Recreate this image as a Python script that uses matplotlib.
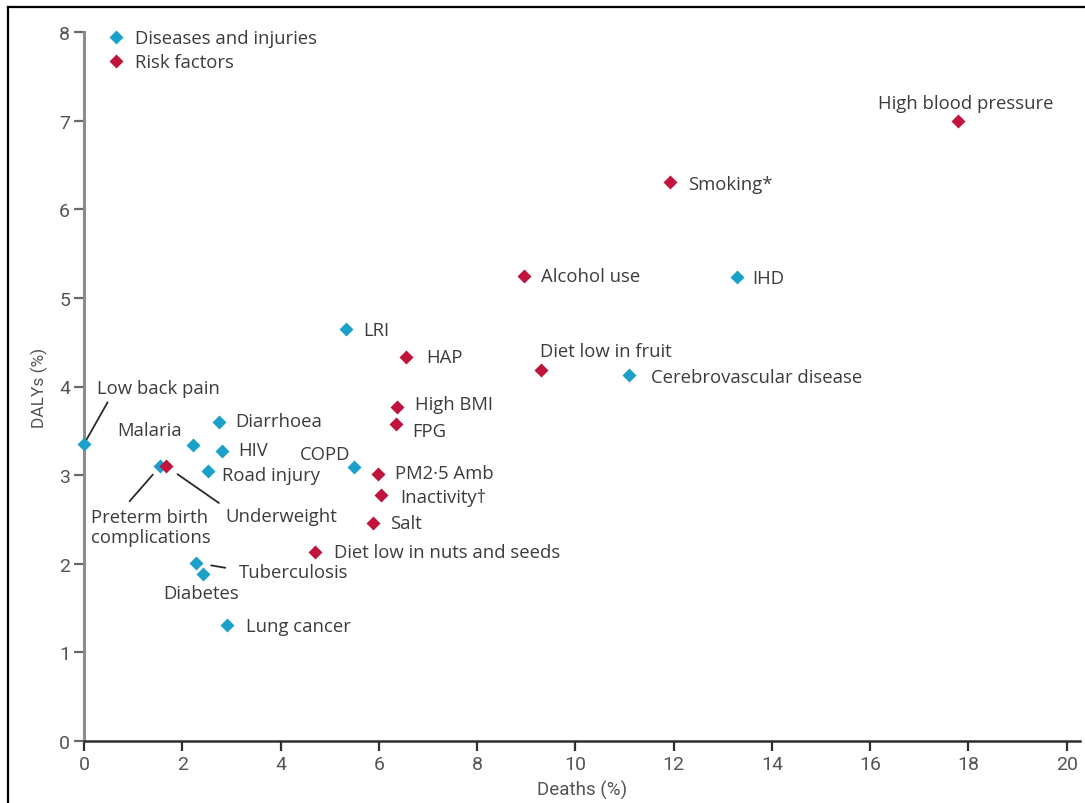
import matplotlib
matplotlib.use("Agg")
import matplotlib.pyplot as plt
from matplotlib.lines import Line2D

# ---------------- data ----------------
disease_names = ["Low back pain", "Malaria", "Diarrhoea", "HIV", "Road injury",
                 "Preterm birth\ncomplications", "COPD", "LRI", "Tuberculosis",
                 "Diabetes", "Lung cancer", "IHD", "Cerebrovascular disease"]
disease_deaths = [0.0, 2.22, 2.75, 2.81, 2.52, 1.55, 5.49, 5.34, 2.28, 2.42, 2.91, 13.28, 11.09]
disease_dalys = [3.35, 3.34, 3.60, 3.27, 3.05, 3.10, 3.09, 4.65, 2.01, 1.88, 1.31, 5.24, 4.13]

risk_names = ["High blood pressure", "Smoking*", "Alcohol use", "Diet low in fruit",
              "HAP", "High BMI", "FPG", "PM2·5 Amb", "Inactivity†", "Salt",
              "Diet low in nuts and seeds", "Underweight"]
risk_deaths = [17.78, 11.92, 8.95, 9.30, 6.55, 6.38, 6.34, 5.99, 6.04, 5.88, 4.70, 1.67]
risk_dalys = [7.00, 6.31, 5.25, 4.19, 4.33, 3.77, 3.58, 3.01, 2.78, 2.46, 2.13, 3.10]

x_ticks = [0, 2, 4, 6, 8, 10, 12, 14, 16, 18, 20]
y_ticks = [0, 1, 2, 3, 4, 5, 6, 7, 8]

# ---------------- style ----------------
BLUE = "#1ba1c9"
RED = "#c0143c"
TXT = "#3c3c3c"
LBL_FONT = ["Open Sans", "DejaVu Sans"]
TICK_FONT = ["Liberation Sans Narrow", "DejaVu Sans Condensed", "Roboto", "DejaVu Sans"]
FS = 13.3

# label placement: (dx, dy in pixels, ha, leader-line spec or None)
disease_lbl = {
    "Low back pain": (13, 56, "left", dict(relpos=(0.11, 0.0), shrinkA=2, shrinkB=4)),
    "Malaria": (-11, 15, "right", None),
    "Diarrhoea": (16, 1, "left", None),
    "HIV": (16, 1, "left", None),
    "Road injury": (14, -4, "left", None),
    "Preterm birth\ncomplications": (-69, -61, "left", dict(relpos=(0.27, 1.0), shrinkA=4, shrinkB=8)),
    "COPD": (-4, 13, "right", None),
    "LRI": (17, -1, "left", None),
    "Tuberculosis": (43, -9, "left", dict(relpos=(0.0, 0.6), shrinkA=8, shrinkB=11)),
    "Diabetes": (-2, -19, "center", None),
    "Lung cancer": (19, -1, "left", None),
    "IHD": (16, -1, "left", None),
    "Cerebrovascular disease": (22, -2, "left", None),
}
risk_lbl = {
    "High blood pressure": (8, 18, "center", None),
    "Smoking*": (18, -2, "left", None),
    "Alcohol use": (17, 0, "left", None),
    "Diet low in fruit": (-1, 19, "left", None),
    "HAP": (20, 0, "left", None),
    "High BMI": (18, 3, "left", None),
    "FPG": (17, -7, "left", None),
    "PM2·5 Amb": (17, 1, "left", None),
    "Inactivity†": (19, -2, "left", None),
    "Salt": (17, 0, "left", None),
    "Diet low in nuts and seeds": (19, 0, "left", None),
    "Underweight": (59, -50, "left", dict(relpos=(0.0, 1.0), shrinkA=3, shrinkB=10)),
}

W, H = 1085, 804
fig = plt.figure(figsize=(W / 100, H / 100), dpi=100)
ax = fig.add_axes([84 / W, 1 - 742 / H, (1080 - 84) / W, (742 - 33) / H])

ax.set_xlim(0, 20.27)
ax.set_ylim(0, 8)

ms = 7.5
l1, = ax.plot(disease_deaths, disease_dalys, linestyle="none", marker="D", ms=ms,
              color=BLUE, mec="none", clip_on=False, zorder=3, label="Diseases and injuries")
l2, = ax.plot(risk_deaths, risk_dalys, linestyle="none", marker="D", ms=ms,
              color=RED, mec="none", clip_on=False, zorder=4, label="Risk factors")


def label(names, xs, ys, spec):
    for n, x, y in zip(names, xs, ys):
        dx, dy, ha, line = spec[n]
        kw = {}
        if line is not None:
            kw["arrowprops"] = dict(arrowstyle="-", color="#2a2a2a", lw=1.3,
                                    relpos=line["relpos"], shrinkA=line["shrinkA"],
                                    shrinkB=line["shrinkB"])
        ax.annotate(n, xy=(x, y), xytext=(dx, dy), textcoords="offset pixels",
                    ha=ha, va="center", fontsize=FS, color=TXT, family=LBL_FONT,
                    linespacing=1.15, annotation_clip=False, **kw)


label(disease_names, disease_deaths, disease_dalys, disease_lbl)
label(risk_names, risk_deaths, risk_dalys, risk_lbl)

# spines / ticks
for s in ("top", "right"):
    ax.spines[s].set_visible(False)
ax.spines["left"].set_color("#8c8c8c")
ax.spines["left"].set_linewidth(2.2)
ax.spines["bottom"].set_color("#2e2e2e")
ax.spines["bottom"].set_linewidth(1.8)
ax.set_xticks(x_ticks)
ax.set_yticks(y_ticks)
ax.tick_params(axis="y", direction="out", length=7, width=1.6, color="#6a6a6a",
               labelsize=14, labelcolor="#555555", pad=3)
ax.tick_params(axis="x", direction="out", length=7, width=1.6, color="#2e2e2e",
               labelsize=14, labelcolor="#555555", pad=3)
for t in ax.get_xticklabels() + ax.get_yticklabels():
    t.set_family(TICK_FONT)

ax.set_xlabel("Deaths (%)", fontsize=13.5, color="#555555", family=TICK_FONT, labelpad=5)
ax.set_ylabel("DALYs (%)", fontsize=12.5, color="#555555", family=TICK_FONT, labelpad=8)

leg = ax.legend(handles=[l1, l2], loc="upper left", bbox_to_anchor=(99 / W, 1 - 23 / H),
                bbox_transform=fig.transFigure, frameon=False, handlelength=1.0,
                handletextpad=0.55, borderaxespad=0, labelspacing=0.33,
                prop=dict(family=LBL_FONT, size=FS))
for t in leg.get_texts():
    t.set_color(TXT)

# outer frame (top and left edges)
fig.add_artist(Line2D([8 / W, 8 / W], [0, 1 - 8 / H], transform=fig.transFigure,
                      color="black", lw=1.6))
fig.add_artist(Line2D([8 / W, 1], [1 - 8 / H, 1 - 8 / H], transform=fig.transFigure,
                      color="black", lw=1.6))

fig.savefig("out.png", dpi=100)
